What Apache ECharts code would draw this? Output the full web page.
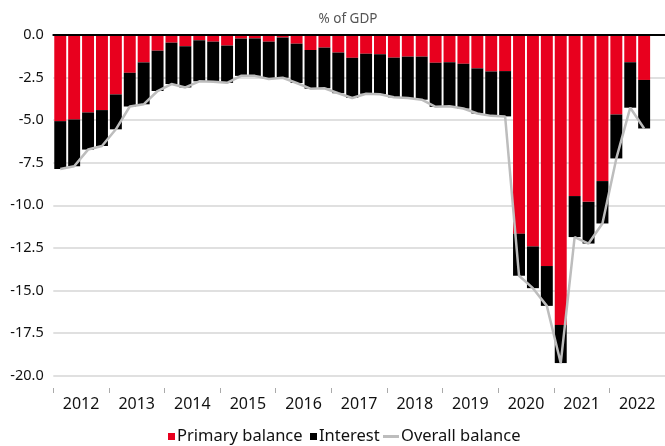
<!DOCTYPE html>
<html>
<head>
<meta charset="utf-8">
<script src="https://cdn.jsdelivr.net/npm/echarts@6/dist/echarts.min.js"></script>
<style>
html,body{margin:0;padding:0;background:#fff;}
#c{width:665px;height:446px;}
</style>
</head>
<body>
<div id="c"></div>
<script>
// Quarterly categories 2012Q1 .. 2022Q4
const years = ['2012','2013','2014','2015','2016','2017','2018','2019','2020','2021','2022'];
const quarters = [];
years.forEach(y => ['Q1','Q2','Q3','Q4'].forEach(q => quarters.push(y + q)));

// % of GDP
const primaryBalance = [-5.06,-4.96,-4.55,-4.41, -3.49,-2.22,-1.61,-0.92, -0.45,-0.66,-0.31,-0.39,
  -0.62,-0.21,-0.20,-0.39, -0.15,-0.51,-0.88,-0.74, -1.03,-1.34,-1.10,-1.13, -1.33,-1.27,-1.27,-1.63,
  -1.60,-1.69,-1.96,-2.14, -2.12,-11.67,-12.42,-13.57, -17.03,-9.46,-9.80,-8.58, -4.67,-1.60,-2.64, null];
const interest = [-2.81,-2.75,-2.18,-2.11, -2.05,-1.98,-2.46,-2.37, -2.43,-2.42,-2.41,-2.35,
  -2.19,-2.19,-2.20,-2.19, -2.36,-2.31,-2.27,-2.39, -2.39,-2.36,-2.35,-2.35, -2.33,-2.43,-2.53,-2.59,
  -2.58,-2.63,-2.65,-2.61, -2.66,-2.47,-2.45,-2.34, -2.24,-2.41,-2.45,-2.49, -2.58,-2.67,-2.85, null];
const overallBalance = [-7.87,-7.71,-6.73,-6.52, -5.54,-4.20,-4.07,-3.29, -2.88,-3.08,-2.72,-2.74,
  -2.81,-2.40,-2.40,-2.58, -2.51,-2.82,-3.15,-3.13, -3.42,-3.70,-3.45,-3.48, -3.66,-3.70,-3.80,-4.22,
  -4.18,-4.32,-4.61,-4.75, -4.78,-14.14,-14.87,-15.91, -19.27,-11.87,-12.25,-11.07, -7.25,-4.27,-5.49, null];

const FONT = '"Noto Sans", "DejaVu Sans", sans-serif';
const chart = echarts.init(document.getElementById('c'), null, {renderer: 'canvas'});
chart.setOption({
  animation: false,
  backgroundColor: '#fff',
  title: {
    text: '% of GDP', left: 343, top: 7, textAlign: 'center',
    textStyle: {fontFamily: FONT, fontSize: 13.5, fontWeight: 'normal', color: '#555'}
  },
  legend: [
    {data: ['Primary balance'], left: 163, top: 423, itemWidth: 7, itemHeight: 7, itemGap: 0, icon: 'rect',
     textStyle: {fontFamily: FONT, fontSize: 16.5, color: '#111', padding: [0,0,0,-3]}},
    {data: ['Interest'], left: 305, top: 423, itemWidth: 7, itemHeight: 7, icon: 'rect',
     textStyle: {fontFamily: FONT, fontSize: 16.5, color: '#111', padding: [0,0,0,-3]}},
    {data: ['Overall balance'], left: 378, top: 423, itemWidth: 16, itemHeight: 3, icon: 'rect',
     textStyle: {fontFamily: FONT, fontSize: 16.5, color: '#111', padding: [0,0,0,-3]}}
  ],
  grid: {left: 53.3, top: 35, width: 614, bottom: 70.5, containLabel: false},
  xAxis: [
    {type: 'category', data: quarters, position: 'top', z: 5,
     axisLine: {show: true, onZero: true, lineStyle: {color: '#000', width: 2}},
     axisTick: {show: false}, axisLabel: {show: false}, splitLine: {show: false}},
    {type: 'category', data: years, position: 'bottom', offset: 12.5, boundaryGap: true,
     axisLine: {show: false},
     axisTick: {show: true, interval: 0, length: 5, lineStyle: {color: '#aaa', width: 1}},
     axisLabel: {interval: 0, margin: 8, fontFamily: FONT, fontSize: 16, color: '#111'},
     splitLine: {show: false}}
  ],
  yAxis: {
    type: 'value', min: -20, max: 0, interval: 2.5,
    axisLine: {show: false}, axisTick: {show: false},
    axisLabel: {margin: 9.5, fontFamily: FONT, fontSize: 14.5, color: '#111',
      formatter: v => v.toFixed(1)},
    splitLine: {lineStyle: {color: '#d6d6d6', width: 1.5}}
  },
  series: [
    {name: 'Primary balance', type: 'bar', stack: 'bal', xAxisIndex: 0, data: primaryBalance,
     barCategoryGap: '14%', itemStyle: {color: '#E8001E'}},
    {name: 'Interest', type: 'bar', stack: 'bal', xAxisIndex: 0, data: interest,
     barCategoryGap: '14%', itemStyle: {color: '#000'}},
    {name: 'Overall balance', type: 'line', xAxisIndex: 0, data: overallBalance, z: 4,
     symbol: 'none', lineStyle: {color: '#bdbdbd', width: 2.5}, itemStyle: {color: '#bdbdbd'}}
  ]
});
</script>
</body>
</html>
